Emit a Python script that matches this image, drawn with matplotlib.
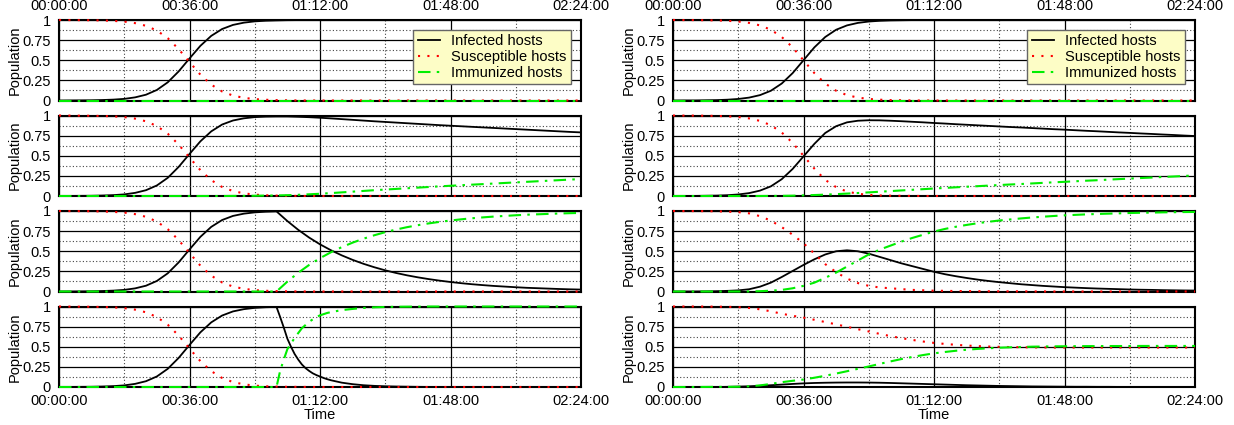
import matplotlib
matplotlib.use("Agg")
import matplotlib.pyplot as plt
from matplotlib.ticker import FixedLocator, FuncFormatter

plt.rcParams['font.family'] = ['Liberation Sans', 'DejaVu Sans']

# sample times in minutes (every 3 min over 2h24)
minutes = list(range(0, 145, 3))
# finer sampling around the sharp drop of the bottom-left panel
minutes_d = list(range(0, 60, 3)) + list(range(60, 76)) + list(range(78, 145, 3))

# --- left column ---
inf_a = [0.0, 0.001, 0.002, 0.003, 0.006, 0.011, 0.020, 0.039, 0.072, 0.131,
         0.226, 0.361, 0.522, 0.679, 0.803, 0.888, 0.939, 0.967, 0.983, 0.991,
         0.995, 0.998, 0.999, 1.0, 1.0, 1.0, 1.0, 1.0, 1.0, 1.0,
         1.0, 1.0, 1.0, 1.0, 1.0, 1.0, 1.0, 1.0, 1.0, 1.0,
         1.0, 1.0, 1.0, 1.0, 1.0, 1.0, 1.0, 1.0, 1.0]
sus_a = [1.0, 0.999, 0.998, 0.997, 0.994, 0.989, 0.980, 0.961, 0.928, 0.869,
         0.774, 0.639, 0.478, 0.321, 0.197, 0.112, 0.061, 0.033, 0.017, 0.009,
         0.005, 0.002, 0.001, 0.0, 0.0, 0.0, 0.0, 0.0, 0.0, 0.0,
         0.0, 0.0, 0.0, 0.0, 0.0, 0.0, 0.0, 0.0, 0.0, 0.0,
         0.0, 0.0, 0.0, 0.0, 0.0, 0.0, 0.0, 0.0, 0.0]
imm_a = [0.0, 0.0, 0.0, 0.0, 0.0, 0.0, 0.0, 0.0, 0.0, 0.0,
         0.0, 0.0, 0.0, 0.0, 0.0, 0.0, 0.0, 0.0, 0.0, 0.0,
         0.0, 0.0, 0.0, 0.0, 0.0, 0.0, 0.0, 0.0, 0.0, 0.0,
         0.0, 0.0, 0.0, 0.0, 0.0, 0.0, 0.0, 0.0, 0.0, 0.0,
         0.0, 0.0, 0.0, 0.0, 0.0, 0.0, 0.0, 0.0, 0.0]

inf_b = [0.0, 0.001, 0.002, 0.003, 0.006, 0.011, 0.020, 0.039, 0.072, 0.131,
         0.226, 0.361, 0.522, 0.679, 0.803, 0.888, 0.938, 0.965, 0.980, 0.986,
         0.988, 0.988, 0.984, 0.979, 0.972, 0.964, 0.955, 0.946, 0.937, 0.928,
         0.920, 0.912, 0.904, 0.896, 0.888, 0.880, 0.873, 0.866, 0.859, 0.852,
         0.845, 0.838, 0.831, 0.824, 0.817, 0.810, 0.803, 0.796, 0.790]
sus_b = sus_a
imm_b = [0.0, 0.0, 0.0, 0.0, 0.0, 0.0, 0.0, 0.0, 0.0, 0.0,
         0.0, 0.0, 0.0, 0.0, 0.0, 0.0, 0.001, 0.002, 0.003, 0.005,
         0.007, 0.010, 0.015, 0.021, 0.028, 0.036, 0.045, 0.054, 0.063, 0.072,
         0.080, 0.088, 0.096, 0.104, 0.112, 0.120, 0.127, 0.134, 0.141, 0.148,
         0.155, 0.162, 0.169, 0.176, 0.183, 0.190, 0.197, 0.204, 0.210]

inf_c = [0.0, 0.001, 0.002, 0.003, 0.006, 0.011, 0.020, 0.039, 0.072, 0.131,
         0.226, 0.361, 0.522, 0.679, 0.803, 0.888, 0.939, 0.967, 0.983, 0.991,
         0.995, 0.875, 0.766, 0.670, 0.586, 0.513, 0.449, 0.393, 0.344, 0.301,
         0.263, 0.230, 0.201, 0.176, 0.154, 0.135, 0.118, 0.103, 0.090, 0.079,
         0.069, 0.061, 0.053, 0.046, 0.041, 0.036, 0.031, 0.027, 0.024]
sus_c = sus_a
imm_c = [0.0, 0.0, 0.0, 0.0, 0.0, 0.0, 0.0, 0.0, 0.0, 0.0,
         0.0, 0.0, 0.0, 0.0, 0.0, 0.0, 0.0, 0.0, 0.0, 0.0,
         0.0, 0.123, 0.233, 0.330, 0.414, 0.487, 0.551, 0.607, 0.656, 0.699,
         0.737, 0.770, 0.799, 0.824, 0.846, 0.865, 0.882, 0.897, 0.910, 0.921,
         0.931, 0.939, 0.947, 0.954, 0.959, 0.964, 0.969, 0.973, 0.976]

# bottom-left panel, sampled on minutes_d
inf_d = [0.0, 0.001, 0.002, 0.003, 0.006, 0.011, 0.020, 0.039, 0.072, 0.131,
         0.226, 0.361, 0.522, 0.679, 0.803, 0.888, 0.939, 0.967, 0.983, 0.991,
         0.995, 0.870, 0.740, 0.600, 0.500, 0.410, 0.340, 0.280, 0.235, 0.200,
         0.170, 0.148, 0.130, 0.112, 0.097, 0.084,
         0.054, 0.035, 0.022, 0.014, 0.009, 0.006, 0.004, 0.002, 0.001, 0.0,
         0.0, 0.0, 0.0, 0.0, 0.0, 0.0, 0.0, 0.0, 0.0, 0.0, 0.0, 0.0, 0.0]
sus_d = [1.0, 0.999, 0.998, 0.997, 0.994, 0.989, 0.980, 0.961, 0.928, 0.869,
         0.774, 0.639, 0.478, 0.321, 0.197, 0.112, 0.061, 0.033, 0.017, 0.009,
         0.005, 0.004, 0.003, 0.002, 0.002, 0.002, 0.001, 0.001, 0.001, 0.001,
         0.0, 0.0, 0.0, 0.0, 0.0, 0.0,
         0.0, 0.0, 0.0, 0.0, 0.0, 0.0, 0.0, 0.0, 0.0, 0.0,
         0.0, 0.0, 0.0, 0.0, 0.0, 0.0, 0.0, 0.0, 0.0, 0.0, 0.0, 0.0, 0.0]
imm_d = [0.0, 0.0, 0.0, 0.0, 0.0, 0.0, 0.0, 0.0, 0.0, 0.0,
         0.0, 0.0, 0.0, 0.0, 0.0, 0.0, 0.0, 0.0, 0.0, 0.0,
         0.0, 0.200, 0.340, 0.470, 0.540, 0.610, 0.670, 0.730, 0.770, 0.810,
         0.840, 0.870, 0.890, 0.905, 0.920, 0.930,
         0.955, 0.970, 0.982, 0.990, 0.994, 0.997, 0.998, 0.999, 1.0, 1.0,
         1.0, 1.0, 1.0, 1.0, 1.0, 1.0, 1.0, 1.0, 1.0, 1.0, 1.0, 1.0, 1.0]

# --- right column ---
inf_e = [0.0, 0.001, 0.001, 0.003, 0.005, 0.010, 0.019, 0.036, 0.067, 0.121,
         0.211, 0.340, 0.500, 0.660, 0.789, 0.879, 0.933, 0.964, 0.981, 0.990,
         0.995, 0.997, 0.999, 1.0, 1.0, 1.0, 1.0, 1.0, 1.0, 1.0,
         1.0, 1.0, 1.0, 1.0, 1.0, 1.0, 1.0, 1.0, 1.0, 1.0,
         1.0, 1.0, 1.0, 1.0, 1.0, 1.0, 1.0, 1.0, 1.0]
sus_e = [1.0, 0.999, 0.999, 0.997, 0.995, 0.990, 0.981, 0.964, 0.933, 0.879,
         0.789, 0.660, 0.500, 0.340, 0.211, 0.121, 0.067, 0.036, 0.019, 0.010,
         0.005, 0.003, 0.001, 0.0, 0.0, 0.0, 0.0, 0.0, 0.0, 0.0,
         0.0, 0.0, 0.0, 0.0, 0.0, 0.0, 0.0, 0.0, 0.0, 0.0,
         0.0, 0.0, 0.0, 0.0, 0.0, 0.0, 0.0, 0.0, 0.0]
imm_e = imm_a

inf_f = [0.0, 0.001, 0.001, 0.003, 0.005, 0.010, 0.019, 0.036, 0.067, 0.120,
         0.209, 0.336, 0.492, 0.648, 0.783, 0.867, 0.915, 0.935, 0.941, 0.940,
         0.935, 0.929, 0.922, 0.915, 0.907, 0.900, 0.892, 0.885, 0.878, 0.871,
         0.864, 0.857, 0.851, 0.844, 0.837, 0.830, 0.824, 0.817, 0.810, 0.804,
         0.797, 0.790, 0.784, 0.777, 0.771, 0.764, 0.758, 0.751, 0.745]
sus_f = [1.0, 0.999, 0.999, 0.997, 0.995, 0.990, 0.981, 0.964, 0.933, 0.879,
         0.789, 0.660, 0.500, 0.340, 0.200, 0.110, 0.055, 0.028, 0.014, 0.007,
         0.004, 0.002, 0.001, 0.0, 0.0, 0.0, 0.0, 0.0, 0.0, 0.0,
         0.0, 0.0, 0.0, 0.0, 0.0, 0.0, 0.0, 0.0, 0.0, 0.0,
         0.0, 0.0, 0.0, 0.0, 0.0, 0.0, 0.0, 0.0, 0.0]
imm_f = [0.0, 0.0, 0.0, 0.0, 0.0, 0.0, 0.0, 0.0, 0.0, 0.001,
         0.002, 0.004, 0.008, 0.012, 0.017, 0.023, 0.030, 0.037, 0.045, 0.053,
         0.061, 0.069, 0.077, 0.085, 0.093, 0.100, 0.108, 0.115, 0.122, 0.129,
         0.136, 0.143, 0.149, 0.156, 0.163, 0.170, 0.176, 0.183, 0.190, 0.196,
         0.203, 0.210, 0.216, 0.223, 0.229, 0.236, 0.242, 0.249, 0.255]

inf_g = [0.0, 0.001, 0.001, 0.002, 0.004, 0.008, 0.014, 0.028, 0.060, 0.110,
         0.180, 0.255, 0.330, 0.400, 0.460, 0.500, 0.512, 0.500, 0.470, 0.430,
         0.390, 0.350, 0.315, 0.280, 0.245, 0.215, 0.190, 0.168, 0.148, 0.131,
         0.116, 0.103, 0.090, 0.080, 0.070, 0.062, 0.054, 0.048, 0.042, 0.037,
         0.033, 0.029, 0.025, 0.022, 0.020, 0.017, 0.015, 0.013, 0.012]
sus_g = [1.0, 0.999, 0.999, 0.998, 0.996, 0.992, 0.986, 0.971, 0.936, 0.880,
         0.800, 0.705, 0.600, 0.470, 0.340, 0.240, 0.160, 0.105, 0.070, 0.050,
         0.040, 0.030, 0.020, 0.015, 0.010, 0.008, 0.006, 0.005, 0.004, 0.003,
         0.002, 0.002, 0.002, 0.001, 0.001, 0.0, 0.0, 0.0, 0.0, 0.0,
         0.0, 0.0, 0.0, 0.0, 0.0, 0.0, 0.0, 0.0, 0.0]
imm_g = [0.0, 0.0, 0.0, 0.0, 0.0, 0.0, 0.0, 0.001, 0.004, 0.010,
         0.020, 0.040, 0.070, 0.110, 0.170, 0.235, 0.310, 0.385, 0.460, 0.520,
         0.570, 0.620, 0.665, 0.705, 0.745, 0.777, 0.804, 0.827, 0.848, 0.866,
         0.882, 0.895, 0.908, 0.919, 0.929, 0.938, 0.946, 0.952, 0.958, 0.963,
         0.967, 0.971, 0.975, 0.978, 0.980, 0.983, 0.985, 0.987, 0.988]

inf_h = [0.0, 0.0, 0.0, 0.0, 0.0, 0.002, 0.005, 0.009, 0.015, 0.022,
         0.030, 0.038, 0.045, 0.050, 0.053, 0.055, 0.056, 0.056, 0.055, 0.053,
         0.050, 0.046, 0.042, 0.038, 0.034, 0.030, 0.026, 0.022, 0.019, 0.016,
         0.013, 0.011, 0.009, 0.007, 0.006, 0.005, 0.004, 0.003, 0.003, 0.002,
         0.002, 0.001, 0.001, 0.001, 0.001, 0.0, 0.0, 0.0, 0.0]
sus_h = [1.0, 1.0, 1.0, 0.999, 0.998, 0.996, 0.992, 0.982, 0.965, 0.940,
         0.910, 0.885, 0.862, 0.835, 0.807, 0.778, 0.748, 0.718, 0.690, 0.660,
         0.632, 0.607, 0.585, 0.565, 0.548, 0.535, 0.524, 0.515, 0.508, 0.503,
         0.499, 0.496, 0.494, 0.492, 0.491, 0.490, 0.490, 0.490, 0.490, 0.490,
         0.490, 0.490, 0.490, 0.490, 0.490, 0.490, 0.490, 0.490, 0.490]
imm_h = [0.0, 0.0, 0.0, 0.001, 0.002, 0.002, 0.003, 0.009, 0.020, 0.038,
         0.060, 0.077, 0.093, 0.115, 0.140, 0.167, 0.196, 0.226, 0.255, 0.287,
         0.318, 0.347, 0.373, 0.397, 0.418, 0.435, 0.450, 0.463, 0.473, 0.481,
         0.488, 0.493, 0.497, 0.501, 0.503, 0.505, 0.506, 0.507, 0.508, 0.508,
         0.509, 0.509, 0.509, 0.510, 0.510, 0.510, 0.510, 0.510, 0.510]

left_panels = [(minutes, inf_a, sus_a, imm_a), (minutes, inf_b, sus_b, imm_b),
               (minutes, inf_c, sus_c, imm_c), (minutes_d, inf_d, sus_d, imm_d)]
right_panels = [(minutes, inf_e, sus_e, imm_e), (minutes, inf_f, sus_f, imm_f),
                (minutes, inf_g, sus_g, imm_g), (minutes, inf_h, sus_h, imm_h)]

time_ticks = [0, 36, 72, 108, 144]
pop_ticks = [0, 0.25, 0.5, 0.75, 1]
pop_labels = ["0", "0.25", "0.5", "0.75", "1"]

W, H = 1234, 425
FS = 10.5


def hms(x, pos=None):
    m = int(round(x))
    return "%02d:%02d:00" % (m // 60, m % 60)


fig = plt.figure(figsize=(W / 100, H / 100), dpi=100)

col_left = [59, 673]
col_width = 522
row_tops = [20, 115.5, 211, 306.5]
row_height = 80.5

for c, panels in enumerate([left_panels, right_panels]):
    for r, (t, inf, sus, imm) in enumerate(panels):
        x0 = col_left[c] / W
        y0 = 1 - (row_tops[r] + row_height) / H
        ax = fig.add_axes([x0, y0, col_width / W, row_height / H])

        l1, = ax.plot(t, inf, color="black", lw=1.3, zorder=4, clip_on=False,
                      label="Infected hosts")
        l2, = ax.plot(t, sus, color="#ff0000", lw=1.5, ls=(0, (1, 3.5)),
                      zorder=4, clip_on=False, label="Susceptible hosts")
        l3, = ax.plot(t, imm, color="#00ee00", lw=1.5, ls=(0, (6, 3, 1.2, 3)),
                      zorder=5, clip_on=False, label="Immunized hosts")

        ax.set_xlim(0, 144)
        ax.set_ylim(0, 1)
        ax.xaxis.set_major_locator(FixedLocator(time_ticks))
        ax.xaxis.set_minor_locator(FixedLocator([18, 54, 90, 126]))
        ax.yaxis.set_major_locator(FixedLocator(pop_ticks))
        ax.yaxis.set_minor_locator(FixedLocator([0.125, 0.375, 0.625, 0.875]))
        ax.set_yticklabels(pop_labels)
        ax.xaxis.set_major_formatter(FuncFormatter(hms))

        ax.grid(which="major", color="black", lw=0.9, ls="-")
        ax.grid(which="minor", color="#444444", lw=0.8, ls=(0, (1, 2)))
        ax.set_axisbelow(True)
        for s in ax.spines.values():
            s.set_linewidth(1.5)

        ax.tick_params(which="both", length=0)
        ax.tick_params(axis="y", labelsize=FS, pad=6)
        ax.tick_params(axis="x", labelsize=FS, pad=5,
                       labeltop=(r == 0), labelbottom=(r == 3))

        ax.set_ylabel("Population", fontsize=FS)
        ax.yaxis.set_label_coords(-0.072, 0.5)

        if r == 3:
            ax.set_xlabel("Time", fontsize=FS, labelpad=0)

        if r == 0:
            leg = ax.legend(handles=[l1, l2, l3], loc="upper right",
                            bbox_to_anchor=(0.981, 0.875), borderaxespad=0,
                            fontsize=FS, frameon=True, fancybox=False,
                            framealpha=1, facecolor="#fdfdc6", edgecolor="#666666",
                            handlelength=1.5, handletextpad=0.8, labelspacing=0.12,
                            borderpad=0.3)
            leg.get_frame().set_linewidth(1.0)
            leg.set_zorder(10)

fig.savefig("out.png", dpi=100)
